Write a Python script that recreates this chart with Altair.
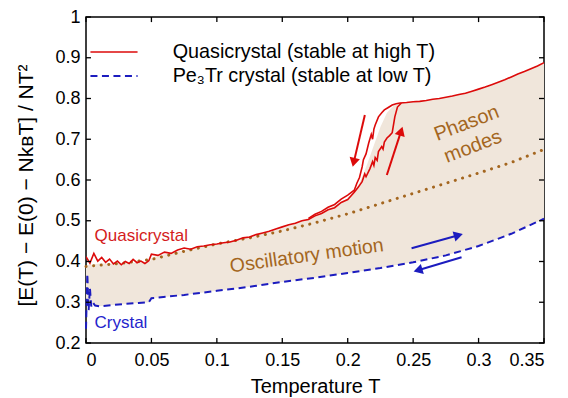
import altair as alt
import pandas as pd

# ---------------- data ----------------
# Quasicrystal: shared low-temperature part (heating and cooling overlap)
qc_low_T = [0.000, 0.003, 0.006, 0.009, 0.012, 0.015, 0.018, 0.021, 0.024, 0.027,
            0.030, 0.033, 0.036, 0.039, 0.042, 0.045, 0.048, 0.050, 0.055, 0.060,
            0.065, 0.070, 0.075, 0.080, 0.085, 0.090, 0.095, 0.100, 0.105, 0.110,
            0.115, 0.120, 0.125, 0.130, 0.135, 0.140, 0.145, 0.150, 0.155, 0.160,
            0.165, 0.170, 0.175, 0.180, 0.185, 0.190, 0.195, 0.200, 0.205]
qc_low_E = [0.412, 0.396, 0.420, 0.401, 0.410, 0.398, 0.406, 0.394, 0.401, 0.392,
            0.400, 0.395, 0.405, 0.397, 0.401, 0.395, 0.402, 0.418, 0.415, 0.423,
            0.420, 0.428, 0.433, 0.430, 0.436, 0.438, 0.441, 0.443, 0.446, 0.448,
            0.452, 0.458, 0.460, 0.466, 0.470, 0.474, 0.480, 0.485, 0.490, 0.494,
            0.500, 0.503, 0.512, 0.518, 0.527, 0.532, 0.545, 0.552, 0.570]
# heating branch (transition at higher T)
qc_heat_T = [0.205, 0.208, 0.211, 0.213, 0.214, 0.217, 0.219, 0.220, 0.221, 0.2225,
             0.2235, 0.226, 0.227, 0.228, 0.230, 0.232, 0.234, 0.236, 0.238, 0.241]
qc_heat_E = [0.570, 0.582, 0.596, 0.615, 0.608, 0.628, 0.645, 0.636, 0.655, 0.648,
             0.670, 0.682, 0.676, 0.693, 0.703, 0.709, 0.716, 0.755, 0.779, 0.789]
# cooling branch (transition at lower T)
qc_cool_T = [0.170, 0.175, 0.180, 0.185, 0.190, 0.195, 0.200, 0.205, 0.207, 0.209,
             0.211, 0.212, 0.214, 0.216, 0.218, 0.219, 0.220, 0.221, 0.2235, 0.226,
             0.228, 0.231, 0.234, 0.237, 0.240]
qc_cool_E = [0.506, 0.516, 0.523, 0.533, 0.540, 0.553, 0.563, 0.575, 0.592, 0.606,
             0.632, 0.650, 0.664, 0.690, 0.712, 0.700, 0.725, 0.735, 0.755, 0.765,
             0.772, 0.778, 0.784, 0.787, 0.789]
# high-temperature part
qc_top_T = [0.240, 0.245, 0.250, 0.255, 0.260, 0.265, 0.270, 0.275, 0.280, 0.285,
            0.290, 0.295, 0.300, 0.305, 0.310, 0.315, 0.320, 0.325, 0.330, 0.335,
            0.340, 0.345, 0.350]
qc_top_E = [0.789, 0.790, 0.792, 0.793, 0.795, 0.798, 0.800, 0.803, 0.806, 0.810,
            0.813, 0.818, 0.823, 0.828, 0.834, 0.840, 0.846, 0.853, 0.860, 0.866,
            0.873, 0.880, 0.888]

# Pe3Tr crystal
cr_T = [0.000, 0.001, 0.002, 0.003, 0.004, 0.005, 0.007, 0.010, 0.020, 0.030,
        0.040, 0.048, 0.050, 0.075, 0.100, 0.125, 0.150, 0.175, 0.200, 0.225,
        0.250, 0.275, 0.300, 0.325, 0.350]
cr_E = [0.235, 0.370, 0.280, 0.335, 0.290, 0.300, 0.292, 0.290, 0.293, 0.296,
        0.298, 0.300, 0.310, 0.318, 0.328, 0.338, 0.350, 0.360, 0.372, 0.384,
        0.398, 0.415, 0.438, 0.468, 0.505]

# harmonic (oscillatory) contribution, dotted
osc_T = [0.000, 0.025, 0.050, 0.075, 0.100, 0.125, 0.150, 0.175, 0.200, 0.225,
         0.250, 0.275, 0.300, 0.325, 0.350]
osc_E = [0.388, 0.395, 0.405, 0.425, 0.443, 0.458, 0.475, 0.495, 0.517, 0.542,
         0.567, 0.592, 0.617, 0.643, 0.675]

# shaded band between crystal and quasicrystal
band_T = [0.000, 0.010, 0.020, 0.030, 0.040, 0.049, 0.050, 0.060, 0.075, 0.100,
          0.125, 0.150, 0.175, 0.200, 0.205, 0.210, 0.215, 0.220, 0.225, 0.230,
          0.235, 0.240, 0.250, 0.275, 0.300, 0.325, 0.350]
band_lo = [0.300, 0.290, 0.293, 0.296, 0.298, 0.300, 0.310, 0.313, 0.318, 0.328,
           0.338, 0.350, 0.360, 0.372, 0.374, 0.376, 0.378, 0.380, 0.384, 0.387,
           0.390, 0.393, 0.398, 0.415, 0.438, 0.468, 0.505]
band_hi = [0.390, 0.395, 0.395, 0.395, 0.397, 0.400, 0.410, 0.418, 0.428, 0.443,
           0.460, 0.485, 0.512, 0.552, 0.570, 0.600, 0.640, 0.685, 0.730, 0.765,
           0.782, 0.789, 0.792, 0.803, 0.823, 0.853, 0.888]

x_ticks = [0, 0.05, 0.1, 0.15, 0.2, 0.25, 0.3, 0.35]
y_ticks = [0.2, 0.3, 0.4, 0.5, 0.6, 0.7, 0.8, 0.9, 1.0]

legend_labels = ["Quasicrystal (stable at high T)", "Pe\u2083Tr crystal (stable at low T)"]

# ---------------- styling ----------------
RED = "#dc0a0a"
BLUE = "#1c1cbf"
BROWN = "#a4661f"
SHADE = "#f0e6db"
FONT = "Liberation Sans"

xscale = alt.Scale(domain=[0, 0.35], nice=False, zero=False)
yscale = alt.Scale(domain=[0.2, 1.0], nice=False, zero=False)
xaxis = alt.Axis(values=x_ticks, format="~g", title="Temperature T",
                 titleY=49, titleBaseline="alphabetic",
                 domain=False, ticks=False, grid=False,
                 labelFont=FONT, labelFontSize=18, labelColor="black", labelPadding=8,
                 titleFont=FONT, titleFontSize=20, titleFontWeight="normal",
                 titleColor="black")
yaxis = alt.Axis(values=y_ticks, format="~g",
                 title="[E(T)   \u2212   E(0)   \u2212   Nk\u0299T]   /   NT\u00b2",
                 titleAngle=270, titleX=-54, titleY=168, titleBaseline="alphabetic",
                 domain=False, ticks=False, grid=False,
                 labelFont=FONT, labelFontSize=18, labelColor="black", labelPadding=6,
                 titleFont=FONT, titleFontSize=21, titleFontWeight="normal",
                 titleColor="black")


def X(f):
    return alt.X(f"{f}:Q", scale=xscale, axis=xaxis)


def Y(f):
    return alt.Y(f"{f}:Q", scale=yscale, axis=yaxis)


def df(**cols):
    d = pd.DataFrame(cols)
    d["i"] = range(len(d))
    return d


band = alt.Chart(df(T=band_T, lo=band_lo, hi=band_hi)).mark_area(
    color=SHADE, opacity=1).encode(x=X("T"), y=Y("lo"), y2="hi")

osc = alt.Chart(df(T=osc_T, E=osc_E)).mark_line(
    color=BROWN, strokeWidth=3, strokeDash=[0.1, 7.5], strokeCap="round").encode(
    x=X("T"), y=Y("E"), order="i:Q")

crystal = alt.Chart(df(T=cr_T, E=cr_E)).mark_line(
    color=BLUE, strokeWidth=2, strokeDash=[7, 4.5]).encode(
    x=X("T"), y=Y("E"), order="i:Q")


def redline(Ts, Es):
    return alt.Chart(df(T=Ts, E=Es)).mark_line(
        color=RED, strokeWidth=1.6, clip=True).encode(x=X("T"), y=Y("E"), order="i:Q")


qc = [redline(qc_low_T + qc_heat_T[1:], qc_low_E + qc_heat_E[1:]),
      redline(qc_cool_T, qc_cool_E),
      redline(qc_top_T, qc_top_E)]

# inward tick marks on all four sides
TLX = 0.0125  # tick length in E units (~5 px)
TLY = 0.0038  # tick length in T units (~5 px)
xt = pd.DataFrame({"T": x_ticks})
yt = pd.DataFrame({"E": y_ticks})
tick_layers = [
    alt.Chart(xt).mark_rule(color="black", strokeWidth=1.3).encode(
        x=X("T"), y=alt.datum(0.2, scale=yscale), y2=alt.datum(0.2 + TLX)),
    alt.Chart(xt).mark_rule(color="black", strokeWidth=1.3).encode(
        x=X("T"), y=alt.datum(1.0, scale=yscale), y2=alt.datum(1.0 - TLX)),
    alt.Chart(yt).mark_rule(color="black", strokeWidth=1.3).encode(
        y=Y("E"), x=alt.datum(0.0, scale=xscale), x2=alt.datum(TLY)),
    alt.Chart(yt).mark_rule(color="black", strokeWidth=1.3).encode(
        y=Y("E"), x=alt.datum(0.35, scale=xscale), x2=alt.datum(0.35 - TLY)),
]

# arrows (shaft + head)
arrows = pd.DataFrame({
    "T0": [0.2131, 0.2299, 0.2488, 0.2870],
    "E0": [0.7595, 0.6123, 0.4324, 0.4103],
    "T1": [0.2046, 0.2408, 0.2846, 0.2537],
    "E1": [0.6432, 0.7198, 0.4643, 0.3784],
    "ang": [193, 18, 74.5, 253.4],
    "col": [RED, RED, BLUE, BLUE],
})
arrow_shaft = alt.Chart(arrows).mark_rule(strokeWidth=2).encode(
    x=X("T0"), y=Y("E0"), x2="T1", y2="E1", color=alt.Color("col:N", scale=None))
arrow_head = alt.Chart(arrows).mark_point(shape="triangle-up", filled=True, size=110,
                                          opacity=1).encode(
    x=X("T1"), y=Y("E1"), angle=alt.Angle("ang:Q", scale=None),
    color=alt.Color("col:N", scale=None))

# legend (drawn inside the plot)
leg = pd.DataFrame({"T0": [0.0034, 0.0034], "T1": [0.0394, 0.0394], "E": [0.914, 0.855],
                    "TL": [0.0662, 0.0662], "label": legend_labels})
leg_red = alt.Chart(leg.iloc[[0]]).mark_rule(color=RED, strokeWidth=1.6).encode(
    x=X("T0"), x2="T1", y=Y("E"))
leg_blue = alt.Chart(leg.iloc[[1]]).mark_rule(color=BLUE, strokeWidth=2,
                                              strokeDash=[7, 4.5]).encode(
    x=X("T0"), x2="T1", y=Y("E"))
leg_text = alt.Chart(leg).mark_text(align="left", baseline="middle", font=FONT,
                                    fontSize=19.8, color="black").encode(
    x=X("TL"), y=Y("E"), text="label:N")

# text annotations
ann = pd.DataFrame({
    "T": [0.0065, 0.0065, 0.1687, 0.2909, 0.2957],
    "E": [0.450, 0.237, 0.414, 0.739, 0.682],
    "txt": ["Quasicrystal", "Crystal", "Oscillatory motion", "Phason", "modes"],
})
t_qc = alt.Chart(ann.iloc[[0]]).mark_text(align="left", baseline="alphabetic", font=FONT,
                                           fontSize=17, color="#d41c1c").encode(
    x=X("T"), y=Y("E"), text="txt:N")
t_cr = alt.Chart(ann.iloc[[1]]).mark_text(align="left", baseline="alphabetic", font=FONT,
                                           fontSize=17, color="#2424cc").encode(
    x=X("T"), y=Y("E"), text="txt:N")
t_osc = alt.Chart(ann.iloc[[2]]).mark_text(align="center", baseline="middle", font=FONT,
                                            fontSize=19.5, color=BROWN, angle=352).encode(
    x=X("T"), y=Y("E"), text="txt:N")
t_ph = alt.Chart(ann.iloc[[3, 4]]).mark_text(align="center", baseline="middle", font=FONT,
                                              fontSize=20, color=BROWN, angle=339).encode(
    x=X("T"), y=Y("E"), text="txt:N")

chart = alt.layer(
    band, osc, crystal, *qc, arrow_shaft, arrow_head, *tick_layers,
    leg_red, leg_blue, leg_text, t_qc, t_cr, t_osc, t_ph
).properties(
    width=458, height=326,
    background="white",
    autosize=alt.AutoSizeParams(type="none"),
    padding={"left": 86, "top": 17, "right": 24, "bottom": 55},
).configure_view(
    stroke="black", strokeWidth=1.5
)

chart.save("out.html", embed_options={"renderer": "svg", "actions": False})
